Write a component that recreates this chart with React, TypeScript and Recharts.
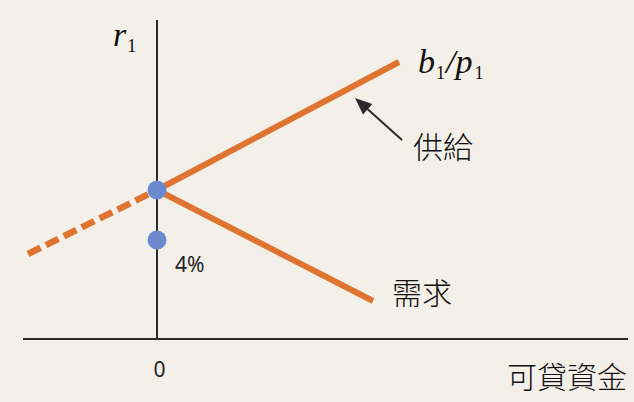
import React from 'react';
import { ComposedChart, Line, Scatter, XAxis, YAxis, ReferenceDot, ReferenceLine } from 'recharts';

// units: 1 = 10px, origin at the axes' crossing
const supplyDashed = [
  { x: -12.9, y: 8.5 },
  { x: 0, y: 14.9 },
];
const supplySolid = [
  { x: 0, y: 14.9 },
  { x: 24.2, y: 27.7 },
];
const demand = [
  { x: 0, y: 14.9 },
  { x: 21.6, y: 3.8 },
];
const rates = [
  { x: 0, y: 14.9 },
  { x: 0, y: 9.9 },
];
const arrow = [
  { x: 24.5, y: 19.9 },
  { x: 20.6, y: 23.4 },
];
const arrowTip = { x: 19.8, y: 24.1 };
const yAxisLine = [
  { x: 0, y: 0 },
  { x: 0, y: 31.9 },
];
const xAxisLine = [
  { x: -13.4, y: 0 },
  { x: 47.1, y: 0 },
];

const ORANGE = '#de7430';
const BLUE = '#6c89d0';
const INK = '#2b2b2b';
const BG = '#f3efe9';

const serif = '"Liberation Serif", "DejaVu Serif", serif';
const cjk = '"Noto Sans CJK TC", "Noto Sans CJK JP", sans-serif';
const sans = '"Noto Sans", "DejaVu Sans", sans-serif';

const textAt = (content: (cx: number, cy: number) => React.ReactElement) => (p: any) =>
  content(p.cx, p.cy);

const ArrowHead = (p: any) => {
  const { cx, cy } = p;
  const dx = arrowTip.x - arrow[0].x;
  const dy = -(arrowTip.y - arrow[0].y);
  const ang = (Math.atan2(dy, dx) * 180) / Math.PI;
  return (
    <g transform={`translate(${cx},${cy}) rotate(${ang})`}>
      <polygon points="0,0 -17,-7 -17,7" fill={INK} />
    </g>
  );
};

const App = () => {
  return (
    <div style={{ position: 'absolute', left: 0, top: 0, width: 634, height: 402, background: BG }}>
      <ComposedChart width={634} height={402} margin={{ top: 0, right: 0, bottom: 0, left: 0 }}>
        <XAxis type="number" dataKey="x" domain={[-15.7, 47.7]} hide allowDataOverflow />
        <YAxis type="number" dataKey="y" domain={[-6.3, 33.9]} hide allowDataOverflow />
        <ReferenceLine segment={yAxisLine} stroke={INK} strokeWidth={2} ifOverflow="visible" />
        <ReferenceLine segment={xAxisLine} stroke={INK} strokeWidth={2} ifOverflow="visible" />
        <Line
          data={supplyDashed}
          dataKey="y"
          stroke={ORANGE}
          strokeWidth={6.5}
          strokeDasharray="14 6"
          dot={false}
          activeDot={false}
          isAnimationActive={false}
        />
        <Line
          data={supplySolid}
          dataKey="y"
          stroke={ORANGE}
          strokeWidth={6}
          dot={false}
          activeDot={false}
          isAnimationActive={false}
        />
        <Line
          data={demand}
          dataKey="y"
          stroke={ORANGE}
          strokeWidth={6}
          dot={false}
          activeDot={false}
          isAnimationActive={false}
        />
        <Line
          data={arrow}
          dataKey="y"
          stroke={INK}
          strokeWidth={2}
          dot={false}
          activeDot={false}
          isAnimationActive={false}
        />
        <Scatter data={[arrowTip]} dataKey="y" shape={ArrowHead} isAnimationActive={false} />
        <Scatter
          data={rates}
          dataKey="y"
          shape={(p: any) => <circle cx={p.cx} cy={p.cy} r={9.5} fill={BLUE} />}
          isAnimationActive={false}
        />
        <ReferenceDot
          x={-4.4}
          y={29.3}
          r={0}
          ifOverflow="visible"
          shape={textAt((cx, cy) => (
            <text x={cx} y={cy} fontFamily={serif} fontStyle="italic" fontSize={34} fill="#111">
              r
              <tspan fontStyle="normal" fontSize={18} dx={1} dy={6}>1</tspan>
            </text>
          ))}
        />
        <ReferenceDot
          x={26.1}
          y={26.6}
          r={0}
          ifOverflow="visible"
          shape={textAt((cx, cy) => (
            <text x={cx} y={cy} fontFamily={serif} fontStyle="italic" fontSize={34} fill="#111">
              b
              <tspan fontStyle="normal" fontSize={18} dx={1} dy={6}>1</tspan>
              <tspan fontSize={34} dx={1} dy={-6}>/p</tspan>
              <tspan fontStyle="normal" fontSize={18} dx={2} dy={6}>1</tspan>
            </text>
          ))}
        />
        <ReferenceDot
          x={25.6}
          y={18.1}
          r={0}
          ifOverflow="visible"
          shape={textAt((cx, cy) => (
            <text x={cx} y={cy} fontFamily={cjk} fontWeight={300} fontSize={30} fill="#111">
              供給
            </text>
          ))}
        />
        <ReferenceDot
          x={23.5}
          y={3.5}
          r={0}
          ifOverflow="visible"
          shape={textAt((cx, cy) => (
            <text x={cx} y={cy} fontFamily={cjk} fontWeight={300} fontSize={30} fill="#111">
              需求
            </text>
          ))}
        />
        <ReferenceDot
          x={35.0}
          y={-4.9}
          r={0}
          ifOverflow="visible"
          shape={textAt((cx, cy) => (
            <text x={cx} y={cy} fontFamily={cjk} fontWeight={300} fontSize={30} fill="#111">
              可貸資金
            </text>
          ))}
        />
        <ReferenceDot
          x={0.25}
          y={-3.8}
          r={0}
          ifOverflow="visible"
          shape={textAt((cx, cy) => (
            <text x={cx} y={cy} fontFamily={sans} fontSize={21} textAnchor="middle" fill="#222">
              0
            </text>
          ))}
        />
        <ReferenceDot
          x={1.8}
          y={6.7}
          r={0}
          ifOverflow="visible"
          shape={textAt((cx, cy) => (
            <text x={cx} y={cy} fontFamily={sans} fontSize={21} fill="#222">
              4%
            </text>
          ))}
        />
      </ComposedChart>
    </div>
  );
};

export default App;
